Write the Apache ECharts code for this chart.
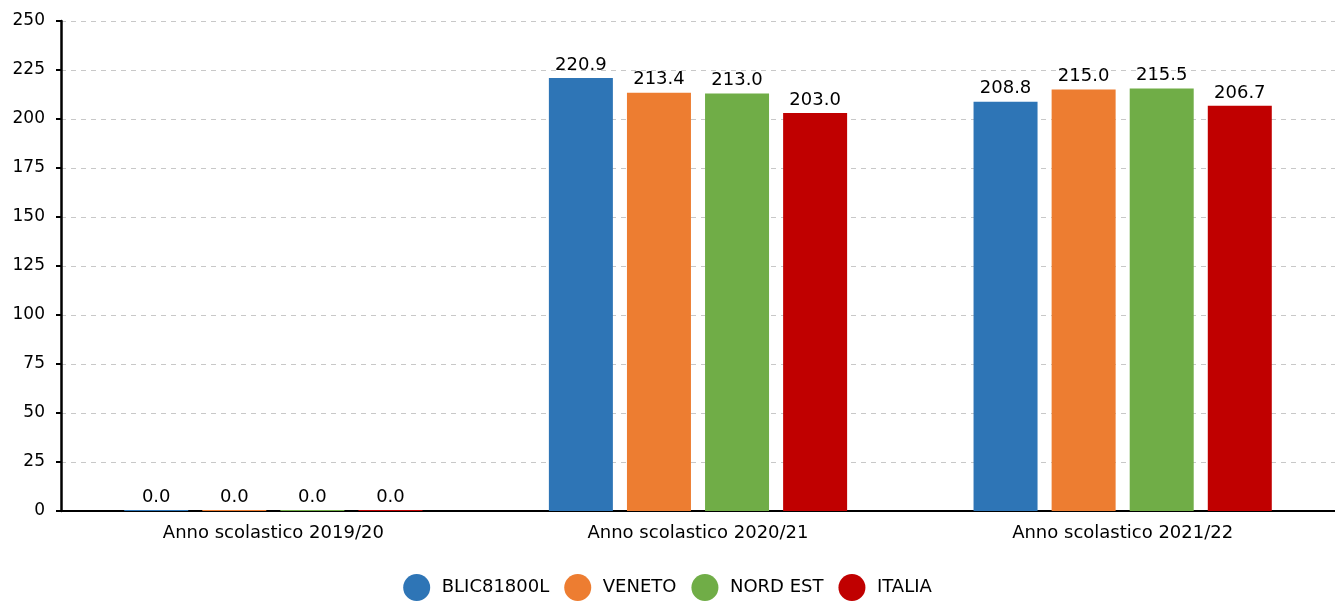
<!DOCTYPE html>
<html><head><meta charset="utf-8">
<script src="https://cdn.jsdelivr.net/npm/echarts@6/dist/echarts.min.js"></script>
<style>html,body{margin:0;padding:0;background:#fff}#c{width:1335px;height:605px}</style>
</head><body><div id="c"></div>
<script>
const categories = ['Anno scolastico 2019/20', 'Anno scolastico 2020/21', 'Anno scolastico 2021/22'];
const seriesNames = ['BLIC81800L', 'VENETO', 'NORD EST', 'ITALIA'];
const blic = [0.0, 220.9, 208.8];
const veneto = [0.0, 213.4, 215.0];
const nordEst = [0.0, 213.0, 215.5];
const italia = [0.0, 203.0, 206.7];
const colors = ['#2e75b6', '#ed7d31', '#70ad47', '#c00000'];
const yTicks = [0, 25, 50, 75, 100, 125, 150, 175, 200, 225, 250];

const values = [blic, veneto, nordEst, italia];
const font = '"DejaVu Sans"';
const chart = echarts.init(document.getElementById('c'), null, {renderer: 'canvas'});
chart.setOption({
  animation: false,
  textStyle: {fontFamily: font},
  grid: {left: 61, right: 0, top: 21, bottom: 94, containLabel: false},
  legend: {
    top: 569, left: 'center', icon: 'circle', itemWidth: 40, itemHeight: 27, itemGap: 15,
    textStyle: {fontFamily: font, fontSize: 18, color: '#000'},
    data: seriesNames
  },
  xAxis: {
    type: 'category', data: categories,
    axisLine: {lineStyle: {color: '#000', width: 2}},
    axisTick: {show: false},
    axisLabel: {fontFamily: font, fontSize: 18, color: '#000', margin: 13}
  },
  yAxis: {
    type: 'value', min: yTicks[0], max: yTicks[yTicks.length - 1], interval: 25,
    axisLine: {show: true, lineStyle: {color: '#000', width: 2.5}},
    axisTick: {show: true, length: 5, lineStyle: {color: '#000', width: 2}},
    axisLabel: {fontFamily: font, fontSize: 17, color: '#000', margin: 16},
    splitLine: {lineStyle: {color: '#c8c8c8', type: [5, 5], width: 1}}
  },
  series: seriesNames.map((n, i) => ({
    name: n, type: 'bar', data: values[i], barWidth: 64, barGap: '22%',
    barMinHeight: 1,
    itemStyle: {color: colors[i]},
    label: {show: true, position: 'top', distance: 4, fontFamily: font, fontSize: 18, color: '#000',
      formatter: p => p.value.toFixed(1)}
  }))
});
</script></body></html>
